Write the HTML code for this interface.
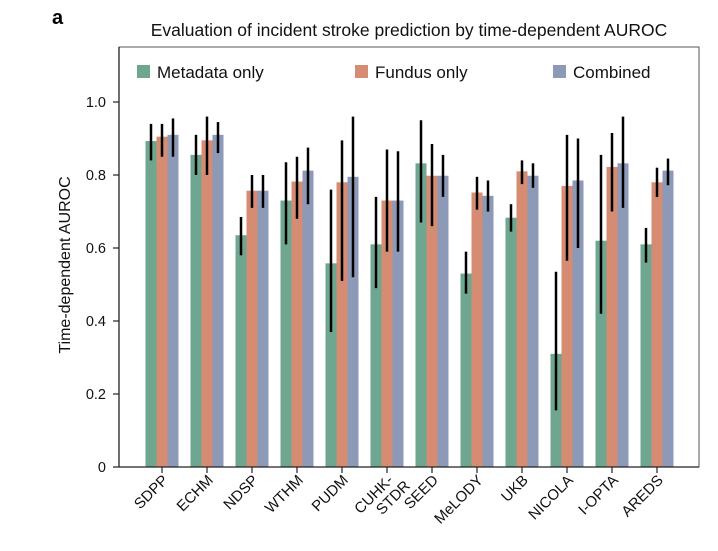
<!DOCTYPE html>
<html><head><meta charset="utf-8"><style>
body{margin:0;background:#fff;width:718px;height:546px;overflow:hidden;font-family:"Liberation Sans",sans-serif}
</style></head><body>
<svg id="c" width="718" height="546">
<text x="52" y="24" font-size="20" font-weight="bold">a</text>
<text x="409" y="36" font-size="17.5" text-anchor="middle" fill="#111">Evaluation of incident stroke prediction by time-dependent AUROC</text>
<rect x="119" y="47" width="580" height="420" fill="none" stroke="#555" stroke-width="1"/>
<g>
<rect x="137" y="65" width="13" height="13" fill="#6fa690"/>
<text x="157" y="78" font-size="17" fill="#111">Metadata only</text>
<rect x="355" y="65" width="13" height="13" fill="#d58c72"/>
<text x="375" y="78" font-size="17" fill="#111">Fundus only</text>
<rect x="553" y="65" width="13" height="13" fill="#8c99b7"/>
<text x="573" y="78" font-size="17" fill="#111">Combined</text>
</g>
<text transform="translate(70,265) rotate(-90)" font-size="16" text-anchor="middle" fill="#111">Time-dependent AUROC</text>
<g id="marks"></g>
</svg>
<script>
const categories=["SDPP","ECHM","NDSP","WTHM","PUDM","CUHK-STDR","SEED","MeLODY","UKB","NICOLA","I-OPTA","AREDS"];
const metaVals=[0.893,0.855,0.635,0.73,0.558,0.61,0.832,0.53,0.683,0.31,0.62,0.61];
const metaLo=[0.84,0.80,0.58,0.61,0.37,0.49,0.67,0.475,0.645,0.155,0.42,0.56];
const metaHi=[0.94,0.91,0.685,0.835,0.76,0.74,0.95,0.59,0.72,0.535,0.855,0.655];
const fundusVals=[0.905,0.895,0.757,0.782,0.78,0.73,0.798,0.752,0.81,0.77,0.822,0.78];
const fundusLo=[0.85,0.80,0.71,0.68,0.51,0.59,0.66,0.705,0.775,0.565,0.70,0.74];
const fundusHi=[0.94,0.96,0.80,0.85,0.895,0.87,0.885,0.795,0.84,0.91,0.915,0.82];
const combVals=[0.91,0.91,0.757,0.812,0.795,0.73,0.798,0.743,0.798,0.785,0.832,0.812];
const combLo=[0.85,0.86,0.71,0.72,0.52,0.59,0.74,0.70,0.765,0.60,0.71,0.772];
const combHi=[0.955,0.945,0.80,0.875,0.96,0.865,0.855,0.785,0.832,0.90,0.96,0.845];
const yTicks=[0,0.2,0.4,0.6,0.8,1.0];
const yTickLabels=["0","0.2","0.4","0.6","0.8","1.0"];
const NS="http://www.w3.org/2000/svg";
const g=document.getElementById("marks");
const y=v=>467-v*365;
const x=i=>162+i*45;
function el(t,a){const e=document.createElementNS(NS,t);for(const k in a)e.setAttribute(k,a[k]);g.appendChild(e);return e;}
const series=[[metaVals,metaLo,metaHi,"#6fa690","metadata"],[fundusVals,fundusLo,fundusHi,"#d58c72","fundus"],[combVals,combLo,combHi,"#8c99b7","combined"]];
categories.forEach((c,i)=>{
  series.forEach((s,j)=>{
    const bx=x(i)-16.5+j*11;
    const r=el("rect",{x:bx,y:y(s[0][i]),width:11,height:467-y(s[0][i]),fill:s[3]});
    
    
    const l=el("line",{x1:bx+5.5,x2:bx+5.5,y1:y(s[1][i]),y2:y(s[2][i]),stroke:"#000","stroke-width":2.5});
    
    
  });
  const t=el("line",{x1:x(i),x2:x(i),y1:467,y2:473,stroke:"#222","stroke-width":1.2});
  
  
  const tx=el("text",{"font-size":15,fill:"#111","text-anchor":"end",transform:`translate(${x(i)+7},${481}) rotate(-45)`});
  
  
  if(c==="CUHK-STDR"){
    const a=document.createElementNS(NS,"tspan");a.setAttribute("x",0);a.setAttribute("y",0);a.textContent="CUHK-";tx.appendChild(a);
    const b=document.createElementNS(NS,"tspan");b.setAttribute("x",8);b.setAttribute("y",16);b.textContent="STDR";tx.appendChild(b);
  } else tx.textContent=c;
});
el("line",{x1:119,x2:699,y1:467,y2:467,stroke:"#222","stroke-width":1.3});
el("line",{x1:119,x2:119,y1:47,y2:467,stroke:"#222","stroke-width":1.3});
yTicks.forEach((v,k)=>{
  const t=el("line",{x1:113,x2:119,y1:y(v),y2:y(v),stroke:"#222","stroke-width":1.2});
  
  
  const tx=el("text",{x:106,y:y(v)+5,"font-size":14.5,fill:"#111","text-anchor":"end"});
  
  
  tx.textContent=yTickLabels[k];
});
</script>
</body></html>
